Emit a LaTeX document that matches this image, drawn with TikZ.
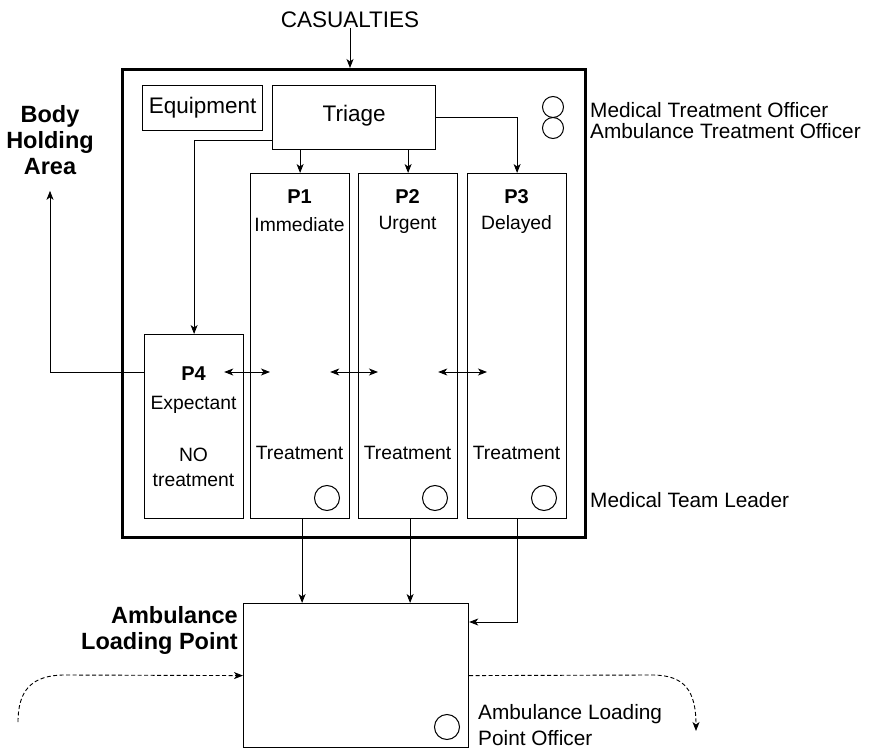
\documentclass[tikz,border=0pt]{standalone}
\usepackage{fontspec}
\setmainfont{Liberation Sans}
\usetikzlibrary{arrows.meta,calc}
\begin{document}
\begin{tikzpicture}[x=1pt,y=-1pt,
  box/.style={draw,line width=1.2pt,inner sep=0pt,anchor=north west},
  arr/.style={line width=0.9pt,-{Stealth[length=9pt,width=7pt,inset=2.5pt]}},
  darr/.style={line width=0.9pt,{Stealth[length=9pt,width=7pt,inset=2.5pt]}-{Stealth[length=9pt,width=7pt,inset=2.5pt]}},
  dasharr/.style={arr,dash pattern=on 4pt off 2.5pt},
  txt/.style={font=\fontsize{19.3}{23}\selectfont,inner sep=0pt},
  ptxt/.style={font=\fontsize{20}{23}\selectfont\bfseries,inner sep=0pt},
  bigtxt/.style={font=\fontsize{22.5}{26}\selectfont,inner sep=0pt},
  lbl/.style={font=\fontsize{20.8}{26}\selectfont,inner sep=0pt,anchor=west,align=left},
  head/.style={font=\fontsize{23.5}{26}\selectfont\bfseries,inner sep=0pt},
  officer/.style={draw,circle,line width=1pt,minimum size=21pt,inner sep=0pt},
  leader/.style={draw,circle,line width=1pt,minimum size=25pt,inner sep=0pt}]
\useasboundingbox (0,0) rectangle (871,749);
\fill[white] (0,0) rectangle (871,749);

% outer area
\node[box,line width=3pt,minimum width=463pt,minimum height=468pt] (outer) at (121,68) {};
\node[bigtxt] (cas) at (350,20) {CASUALTIES};
\draw[arr] (cas.south) -- (cas.south |- outer.north);

% top boxes
\node[box,minimum width=120pt,minimum height=45pt] (equip) at (142,85) {};
\node[bigtxt] (equipt) at (equip.center) {Equipment};
\node[box,minimum width=163pt,minimum height=64pt] (triage) at (272,85) {};
\node[bigtxt] (triaget) at ($(triage.center)+(0,-2)$) {Triage};

% officers
\node[officer] (mto) at (553,107) {};
\node[officer] (ato) at (553,128) {};
\node[lbl] (mtol) at (590,110) {Medical Treatment Officer};
\node[lbl] (atol) at (590,131) {Ambulance Treatment Officer};

% priority boxes
\node[box,minimum width=99pt,minimum height=345pt] (p1) at (250,173) {};
\node[box,minimum width=99pt,minimum height=345pt] (p2) at (358,173) {};
\node[box,minimum width=99pt,minimum height=345pt] (p3) at (467,173) {};
\node[box,minimum width=99pt,minimum height=184pt] (p4) at (144,334) {};

\node[ptxt] (p1a) at (299.5,197) {P1};
\node[txt]  (p1b) at (299.5,225) {Immediate};
\node[ptxt] (p2a) at (407.5,197) {P2};
\node[txt]  (p2b) at (407.5,225) {Urgent};
\node[ptxt] (p3a) at (516.5,197) {P3};
\node[txt]  (p3b) at (516.5,225) {Delayed};
\node[txt]  (p1t) at (299.5,453) {Treatment};
\node[txt]  (p2t) at (407.5,453) {Treatment};
\node[txt]  (p3t) at (516.5,453) {Treatment};
\node[leader] (c1) at (327,498) {};
\node[leader] (c2) at (435,498) {};
\node[leader] (c3) at (544,498) {};
\node[lbl] (mtl) at (590,500) {Medical Team Leader};

\node[ptxt] (p4a) at (193.5,374) {P4};
\node[txt]  (p4b) at (193.5,405) {Expectant};
\node[txt]  (p4c) at (193.5,455) {NO};
\node[txt]  (p4d) at (193.5,480) {treatment};

% body holding area
\node[head,align=center] (body) at (50,140) {Body\\Holding\\Area};

% triage connectors
\draw[arr] (triage.south -| p1.north) -- (p1.north);
\draw[arr] (triage.south -| p2.north) -- (p2.north);
\draw[arr] (triage.east) -- (triage.east -| p3.north) -- (p3.north);
\draw[arr] ([yshift=-23pt]triage.west) -| (p4.north);
\draw[arr] ([yshift=-38pt]p4.north west) -| ([yshift=-16pt]body.south);

% transfers
\coordinate (dy) at (0,372);
\draw[darr] ($(p4.east |- dy)+(-20,0)$) -- ($(p1.west |- dy)+(20,0)$);
\draw[darr] ($(p1.east |- dy)+(-20,0)$) -- ($(p2.west |- dy)+(20,0)$);
\draw[darr] ($(p2.east |- dy)+(-20,0)$) -- ($(p3.west |- dy)+(20,0)$);

% ambulance loading point
\node[box,minimum width=225pt,minimum height=144pt] (alp) at (243,603) {};
\node[head,align=right,anchor=east] (alpl) at (238,630) {Ambulance\\Loading Point};
\node[leader] (alpc) at (447,727) {};
\node[lbl] (alpo) at (478,725) {Ambulance Loading\\Point Officer};

\draw[arr] ($(p1.south)+(2,0)$) -- ($(p1.south |- alp.north)+(2,0)$);
\draw[arr] ($(p2.south)+(2,0)$) -- ($(p2.south |- alp.north)+(2,0)$);
\draw[arr] (p3.south) |- ($(alp.north east)+(0,19)$);

\coordinate (lstart) at (18,722);
\coordinate (rend) at (696,731);
\draw[dasharr] (lstart) .. controls (18,690) and (32,675) .. (65,675) -- (alp.west);
\draw[dasharr] (alp.east) -- (652,675) .. controls (684,675) and (696,690) .. (rend);
\end{tikzpicture}
\end{document}
